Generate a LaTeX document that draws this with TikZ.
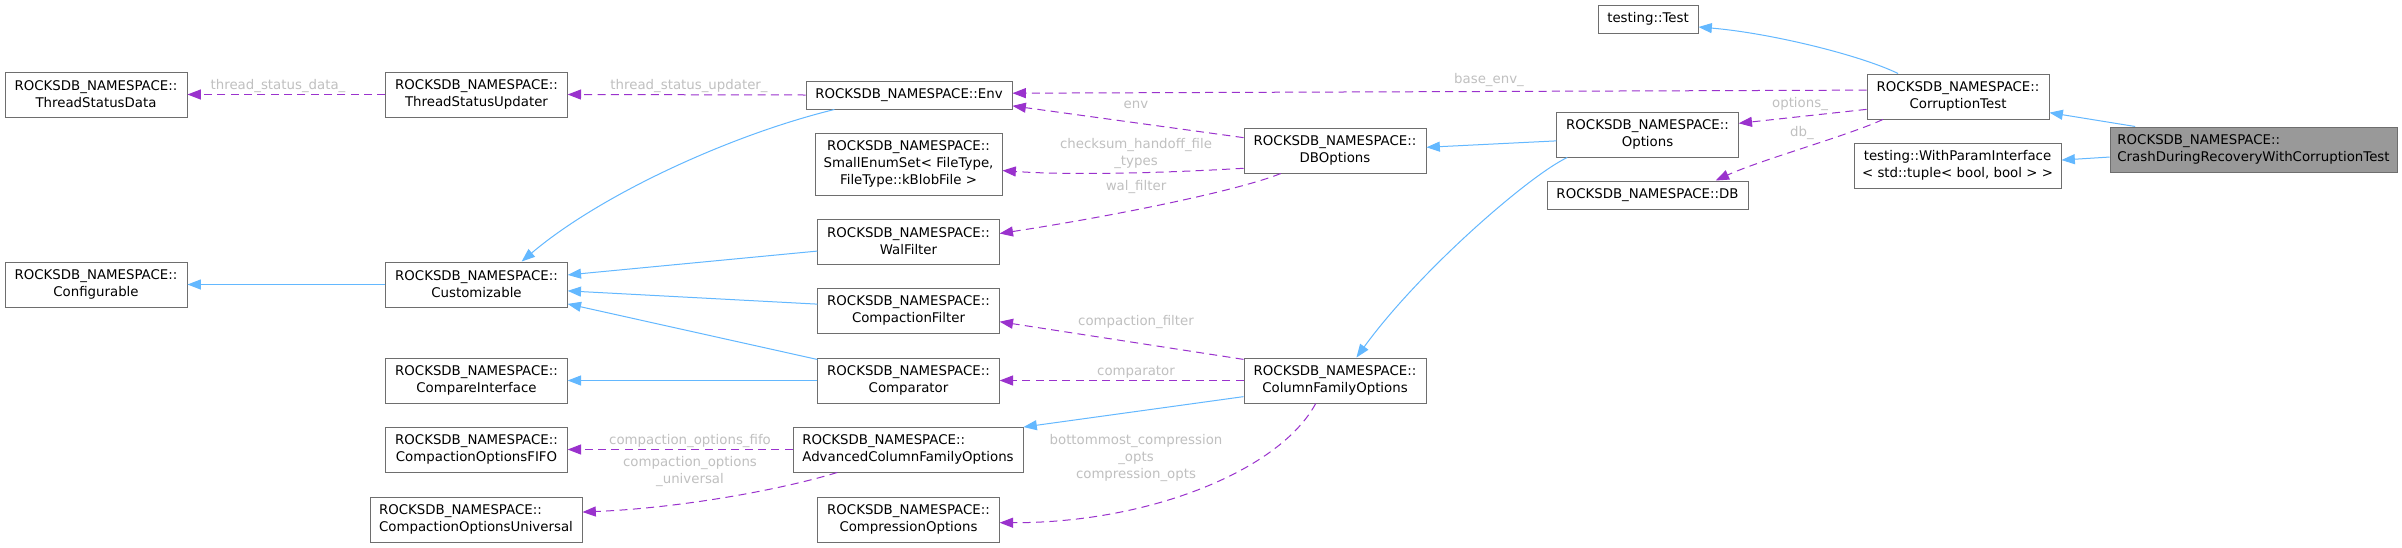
\documentclass[tikz,border=0pt]{standalone}
\usepackage{fontspec}
\setmainfont{DejaVu Sans}
\usetikzlibrary{arrows.meta}

\begin{document}
\begin{tikzpicture}[x=0.75pt,y=-0.75pt,
  cls/.style={draw=cbox,fill=white,line width=0.75pt,inner xsep=3pt,inner ysep=1pt,minimum height=33.75pt,align=center,font=\fontsize{10}{12.75}\selectfont},
  cur/.style={cls,fill=ccur,align=left},
  inh/.style={draw=cinh,line width=0.75pt,-{Triangle[length=10pt,width=7.5pt]}},
  use/.style={draw=cuse,line width=0.75pt,dash pattern=on 6pt off 4pt,-{Triangle[length=10pt,width=7.5pt]}},
  lbl/.style={text=clbl,align=center,inner sep=0pt,font=\fontsize{10}{12.75}\selectfont}]
\definecolor{cinh}{RGB}{99,184,255}
\definecolor{cuse}{RGB}{154,50,205}
\definecolor{cbox}{RGB}{110,110,110}
\definecolor{ccur}{RGB}{153,153,153}
\definecolor{clbl}{RGB}{192,192,192}
\fill[white] (0,0) rectangle (2402,547);
\node[cls,minimum width=136.5pt] (tsdata) at (96,94.5) {ROCKSDB\_NAMESPACE::\\ThreadStatusData};
\node[cls,minimum width=136pt] (tsupd) at (476.5,94.5) {ROCKSDB\_NAMESPACE::\\ThreadStatusUpdater};
\node[cls,minimum width=136.5pt] (config) at (96,284.5) {ROCKSDB\_NAMESPACE::\\Configurable};
\node[cls,minimum width=136pt] (custom) at (476.5,284.5) {ROCKSDB\_NAMESPACE::\\Customizable};
\node[cls,minimum width=136pt] (cmpif) at (476.5,380.5) {ROCKSDB\_NAMESPACE::\\CompareInterface};
\node[cls,minimum width=136pt] (fifo) at (476.5,449.5) {ROCKSDB\_NAMESPACE::\\CompactionOptionsFIFO};
\node[cls,align=left,minimum width=159pt] (univ) at (476,519.5) {ROCKSDB\_NAMESPACE::\\CompactionOptionsUniversal};
\node[cls,minimum width=154.5pt,minimum height=21pt] (env) at (909,95) {ROCKSDB\_NAMESPACE::Env};
\node[cls,minimum width=140.25pt,minimum height=46.5pt] (smallenum) at (908.5,164) {ROCKSDB\_NAMESPACE::\\SmallEnumSet< FileType,\\FileType::kBlobFile >};
\node[cls,minimum width=136pt] (walf) at (908.5,241.5) {ROCKSDB\_NAMESPACE::\\WalFilter};
\node[cls,minimum width=136pt] (cfilter) at (908.5,310.5) {ROCKSDB\_NAMESPACE::\\CompactionFilter};
\node[cls,minimum width=136pt] (comparator) at (908.5,380.5) {ROCKSDB\_NAMESPACE::\\Comparator};
\node[cls,align=left,minimum width=172.5pt] (advcfo) at (908,449.5) {ROCKSDB\_NAMESPACE::\\AdvancedColumnFamilyOptions};
\node[cls,minimum width=136pt] (compr) at (908.5,519.5) {ROCKSDB\_NAMESPACE::\\CompressionOptions};
\node[cls,minimum width=136.5pt] (dbopt) at (1335,150.5) {ROCKSDB\_NAMESPACE::\\DBOptions};
\node[cls,minimum width=136.5pt] (cfo) at (1335,380.5) {ROCKSDB\_NAMESPACE::\\ColumnFamilyOptions};
\node[cls,minimum width=136pt] (options) at (1647.5,134.5) {ROCKSDB\_NAMESPACE::\\Options};
\node[cls,minimum width=150.75pt,minimum height=21pt] (db) at (1647.5,195) {ROCKSDB\_NAMESPACE::DB};
\node[cls,minimum width=75pt,minimum height=21pt] (test) at (1648,19) {testing::Test};
\node[cls,minimum width=136.5pt] (corr) at (1958,96.5) {ROCKSDB\_NAMESPACE::\\CorruptionTest};
\node[cls,minimum width=155.25pt] (wpi) at (1957.5,165.5) {testing::WithParamInterface\\< std::tuple< bool, bool > >};
\node[cur,minimum width=215.25pt] (crash) at (2253.5,149.5) {ROCKSDB\_NAMESPACE::\\CrashDuringRecoveryWithCorruptionTest};
\draw[inh] (custom.west) -- (config.east);
\draw[inh] (env.-169.6) .. controls (730,135) and (600,195) .. (custom.27.4);
\draw[inh] (walf.-174) -- (custom.6.6);
\draw[inh] (cfilter.176.5) -- (custom.-4.1);
\draw[inh] (comparator.167.2) -- (custom.-12);
\draw[inh] (comparator.west) -- (cmpif.east);
\draw[inh] (options.-176.5) -- (dbopt.2.8);
\draw[inh] (options.-164.2) .. controls (1530,175) and (1420,270) .. (cfo.47);
\draw[inh] (cfo.-170.3) -- (advcfo.11);
\draw[inh] (corr.159.1) .. controls (1860,55) and (1770,33) .. (test.-9.1);
\draw[inh] (crash.169.9) -- (corr.-10.9);
\draw[inh] (crash.-177) -- (wpi.3.6);
\draw[use] (tsupd.west) -- (tsdata.east);
\draw[use] (env.west) -- (tsupd.east);
\draw[use] (dbopt.172.2) -- (env.-6.6);
\draw[use] (dbopt.-169.1) .. controls (1180,172) and (1080,176) .. (smallenum.-4.9);
\draw[use] (dbopt.-157) .. controls (1240,190) and (1120,215) .. (walf.5.4);
\draw[use] (corr.176.5) -- (env.1.7);
\draw[use] (corr.-172.8) -- (options.7.2);
\draw[use] (corr.-163.5) .. controls (1850,135) and (1760,160) .. (db.12.1);
\draw[use] (cfo.167.9) -- (cfilter.-7.9);
\draw[use] (cfo.west) -- (comparator.east);
\draw[use] (cfo.-130.2) .. controls (1280,470) and (1150,523) .. (compr.-2.2);
\draw[use] (advcfo.west) -- (fifo.east);
\draw[use] (advcfo.-162.6) .. controls (780,490) and (680,508) .. (univ.4);
\node[lbl] (lthrdata) at (278,86) {thread\_status\_data\_};
\node[lbl] (lthrupd) at (689,86) {thread\_status\_updater\_};
\node[lbl] (lenv) at (1136,105) {env};
\node[lbl] (lchecksum) at (1136,153.5) {checksum\_handoff\_file\\\_types};
\node[lbl] (lwal) at (1136,187) {wal\_filter};
\node[lbl] (lbaseenv) at (1489,80) {base\_env\_};
\node[lbl] (loptions) at (1800,104) {options\_};
\node[lbl] (ldb) at (1802,133) {db\_};
\node[lbl] (lcfilter) at (1136,322) {compaction\_filter};
\node[lbl] (lcmp) at (1136,372) {comparator};
\node[lbl] (lcompr) at (1136,458) {bottommost\_compression\\\_opts\\compression\_opts};
\node[lbl] (lfifo) at (690,441) {compaction\_options\_fifo};
\node[lbl] (luniv) at (690,471.5) {compaction\_options\\\_universal};
\end{tikzpicture}
\end{document}
